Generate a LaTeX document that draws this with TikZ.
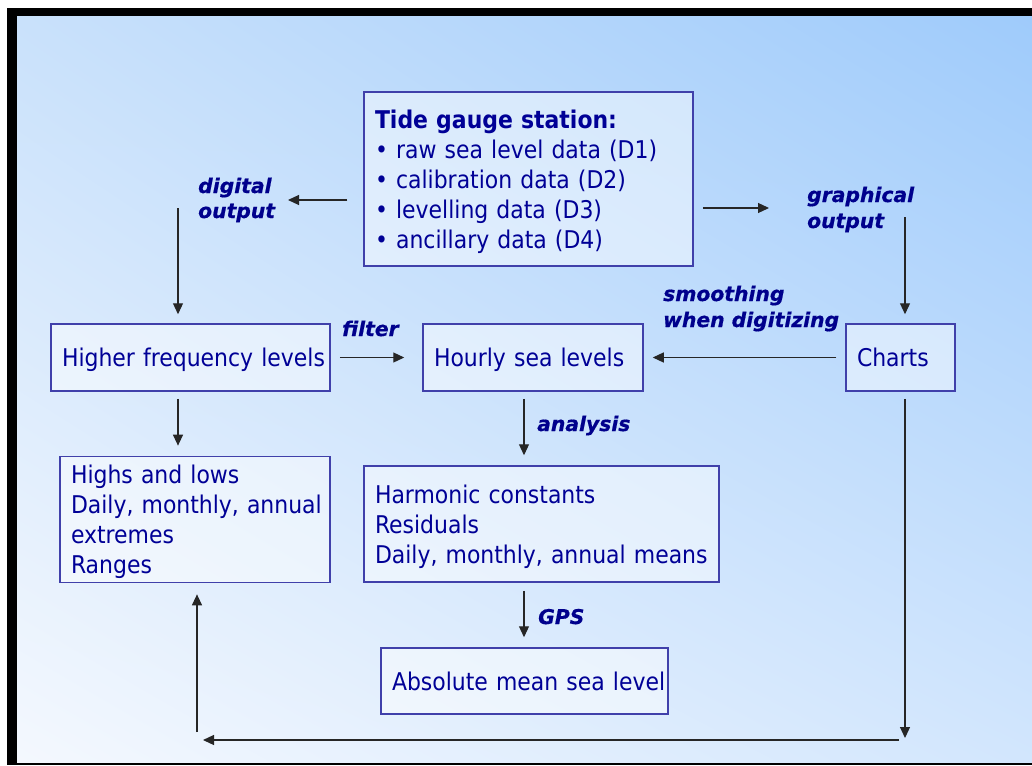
\documentclass[tikz,border=0pt]{standalone}
\usepackage{fontspec}
\setmainfont{DejaVu Sans Condensed}
\newfontfamily\lblfont[FakeBold=0.6]{DejaVu Sans}
\usetikzlibrary{arrows.meta,shadings,calc}
\definecolor{ink}{RGB}{0,0,150}
\definecolor{lblink}{RGB}{0,0,140}
\definecolor{edgeblue}{RGB}{64,64,170}
\definecolor{bgTL}{HTML}{C9E1FB}
\definecolor{bgTR}{HTML}{9FCBFB}
\definecolor{bgBL}{HTML}{F4F8FE}
\definecolor{bgBR}{HTML}{D2E6FD}
% one left-aligned block of lines; the rule lifts the first row so the
% capitals sit in the middle of the box
\newcommand\boxlines[1]{\noindent\begin{tabular}{@{}l@{}}\rule{0pt}{27.2pt}#1\end{tabular}}
\begin{document}
\begin{tikzpicture}[x=1pt,y=-1pt,
  box/.style={draw=edgeblue, line width=1.5pt, fill=white, fill opacity=0.45,
    text opacity=1, text=ink, font=\fontsize{24.4}{30}\selectfont,
    align=left, inner xsep=11pt, inner ysep=0pt},
  lbl/.style={text=lblink, font=\lblfont\bfseries\itshape\fontsize{20.3}{24}\selectfont,
    inner sep=0pt, anchor=base west},
  arr/.style={-{Triangle[length=11pt,width=10pt]}, line width=1.2pt, draw=black!85}]

% page, black frame and shaded backdrop
\fill[white] (0,0) rectangle (1032,765);
\useasboundingbox (0,0) rectangle (1032,765);
\fill[black] (7,8) rectangle (1032,765);
\shade[upper left=bgTL, upper right=bgTR, lower left=bgBL, lower right=bgBR]
  (17,17) rectangle (1032,762);

% boxes
\node[box, minimum width=329pt, minimum height=174pt, text width=307pt] (tide) at (528.5,179)
  {\boxlines{\textbf{Tide gauge station:}\\ • raw sea level data (D1)\\ • calibration data (D2)\\ • levelling data (D3)\\ • ancillary data (D4)}};
\node[box, minimum width=279pt, minimum height=67pt, text width=257pt] (hf) at (190.5,357.5)
  {\boxlines{Higher frequency levels}};
\node[box, minimum width=220pt, minimum height=67pt, text width=198pt] (hourly) at (533,357.5)
  {\boxlines{Hourly sea levels}};
\node[box, minimum width=109pt, minimum height=67pt, text width=87pt] (charts) at (900.5,357.5)
  {\boxlines{Charts}};
\node[box, minimum width=270pt, minimum height=125pt, text width=248pt] (highs) at (195,519.5)
  {\boxlines{Highs and lows\\ Daily, monthly, annual\\ extremes\\ Ranges}};
\node[box, minimum width=355pt, minimum height=116pt, text width=333pt] (harm) at (541.5,524)
  {\boxlines{Harmonic constants\\ Residuals\\ Daily, monthly, annual means}};
\node[box, minimum width=287pt, minimum height=66pt, text width=265pt] (abs) at (524.5,681)
  {\boxlines{Absolute mean sea level}};

% process labels
\node[lbl] (ldig1) at (198,193) {digital};
\node[lbl] (ldig2) at (198,218) {output};
\node[lbl] (lgra1) at (807,202) {graphical};
\node[lbl] (lgra2) at (807,228) {output};
\node[lbl] (lsmo1) at (663,301) {smoothing};
\node[lbl] (lsmo2) at (663,327) {when digitizing};
\node[lbl] (lfil) at (342,336) {filter};
\node[lbl] (lana) at (537,431) {analysis};
\node[lbl] (lgps) at (538,624) {GPS};

% free ends of connectors
\coordinate (dgtip) at (288,200);
\coordinate (dgtop) at (178,208);
\coordinate (grtip) at (769,208);
\coordinate (grtop) at (905,217);
\coordinate (chbot) at (905,738);
\coordinate (loopR) at (899,740);
\coordinate (loopL) at (203,740);
\coordinate (upbase) at (197,732);
\coordinate (midx) at (524,0);

% connectors
\draw[arr, shorten <=16pt] (tide.west |- dgtip) -- (dgtip);
\draw[arr, shorten >=9pt] (dgtop) -- (dgtop |- hf.north);
\draw[arr, shorten <=9pt] (tide.east |- grtip) -- (grtip);
\draw[arr, shorten >=9pt] (grtop) -- (grtop |- charts.north);
\draw[arr, shorten <=9pt, shorten >=9pt] (charts.west) -- (hourly.east);
\draw[arr, shorten <=9pt, shorten >=18pt] (hf.east) -- (hourly.west);
\draw[arr, shorten <=7pt, shorten >=10pt] (dgtop |- hf.south) -- (dgtop |- highs.north);
\draw[arr, shorten <=7pt, shorten >=10pt] (midx |- hourly.south) -- (midx |- harm.north);
\draw[arr, shorten <=8pt, shorten >=10pt] (midx |- harm.south) -- (midx |- abs.north);
\draw[arr, shorten <=7pt] (chbot |- charts.south) -- (chbot);
\draw[arr] (loopR) -- (loopL);
\draw[arr, shorten >=11pt] (upbase) -- (upbase |- highs.south);
\end{tikzpicture}
\end{document}
